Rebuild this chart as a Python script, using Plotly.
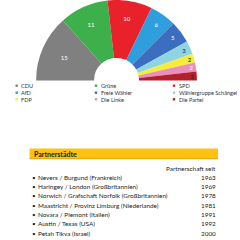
import plotly.graph_objects as go

parties = ["CDU", "Grüne", "SPD", "AfD", "Freie Wähler", "Wählergruppe Schängel", "FDP", "Die Linke", "Die Partei"]
seats = [15, 11, 10, 6, 5, 3, 2, 2, 2]
colors = ["#808080", "#3DB04B", "#E8212A", "#2E9FDC", "#3B6EC1", "#8ED4E2", "#F6EC3B", "#E98FBB", "#B3202B"]
label_colors = ["white", "white", "white", "white", "white", "#1b2a4a", "#111111", "white", "#222222"]

cities = [
    "Nevers / Burgund (Frankreich)",
    "Haringey / London (Großbritannien)",
    "Norwich / Grafschaft Norfolk (Großbritannien)",
    "Maastricht / Provinz Limburg (Niederlande)",
    "Novara / Piemont (Italien)",
    "Austin / Texas (USA)",
    "Petah Tikva (Israel)",
]
years = ["1963", "1969", "1978", "1981", "1991", "1992", "2000"]

FONT = "Lato"
W = H = 240

def px(x):
    return x / W

def py(y):
    return 1 - y / H

total = sum(seats)
fig = go.Figure()
fig.add_trace(go.Pie(
    values=seats + [total],
    labels=parties + [""],
    text=[str(s) for s in seats] + [""],
    textinfo="text",
    textposition="inside",
    insidetextorientation="horizontal",
    insidetextfont=dict(family=FONT, size=6, color=label_colors + ["rgba(0,0,0,0)"]),
    marker=dict(colors=colors + ["rgba(0,0,0,0)"], line=dict(width=0)),
    sort=False,
    direction="clockwise",
    rotation=270,
    hole=0.28,
    showlegend=False,
    hoverinfo="skip",
    domain=dict(x=[0.148, 0.823], y=[0.33, 1.0]),
))

shapes = []
annotations = []

# legend (3 columns)
col_x = [16.7, 96, 174]
row_y = [85.7, 92.7, 99.3]
for i, (p, c) in enumerate(zip(parties, colors)):
    r, cidx = divmod(i, 3)
    x = col_x[cidx]
    y = row_y[r]
    shapes.append(dict(type="rect", xref="paper", yref="paper",
                       x0=px(x - 1.2), x1=px(x + 1.2), y0=py(y + 1.2), y1=py(y - 1.2),
                       fillcolor=c, line=dict(width=0)))
    annotations.append(dict(text=p, x=px(x + 2.6), y=py(y), xref="paper", yref="paper",
                            xanchor="left", yanchor="middle", showarrow=False,
                            font=dict(family=FONT, size=5.6, color="#333333")))

# header bar
shapes.append(dict(type="rect", xref="paper", yref="paper",
                   x0=px(29.5), x1=px(218), y0=py(159), y1=py(148.5),
                   fillcolor="#FFC20E", line=dict(width=0)))
shapes.append(dict(type="line", xref="paper", yref="paper",
                   x0=px(29.5), x1=px(218), y0=py(158.8), y1=py(158.8),
                   line=dict(color="#C89500", width=0.6)))
annotations.append(dict(text="<b>Partnerstädte</b>", x=px(31.5), y=py(153.5), xref="paper", yref="paper",
                        xanchor="left", yanchor="middle", showarrow=False,
                        font=dict(family=FONT, size=7, color="#222222")))
annotations.append(dict(text="Partnerschaft seit", x=px(218), y=py(168), xref="paper", yref="paper",
                        xanchor="right", yanchor="middle", showarrow=False,
                        font=dict(family=FONT, size=6.4, color="#222222")))

y0 = 177.3
dy = 9.33
for i, (c, yr) in enumerate(zip(cities, years)):
    y = y0 + i * dy
    annotations.append(dict(text="•", x=px(29.5), y=py(y), xref="paper", yref="paper",
                            xanchor="left", yanchor="middle", showarrow=False,
                            font=dict(family=FONT, size=6.4, color="#222222")))
    annotations.append(dict(text=c, x=px(35.5), y=py(y), xref="paper", yref="paper",
                            xanchor="left", yanchor="middle", showarrow=False,
                            font=dict(family=FONT, size=6.4, color="#222222")))
    annotations.append(dict(text=yr, x=px(218), y=py(y), xref="paper", yref="paper",
                            xanchor="right", yanchor="middle", showarrow=False,
                            font=dict(family=FONT, size=6.4, color="#222222")))

fig.update_layout(
    width=W, height=H,
    margin=dict(l=0, r=0, t=0, b=0),
    paper_bgcolor="white", plot_bgcolor="white",
    shapes=shapes, annotations=annotations,
    font=dict(family=FONT),
)
fig.write_html("out.html", config={"displayModeBar": False})
